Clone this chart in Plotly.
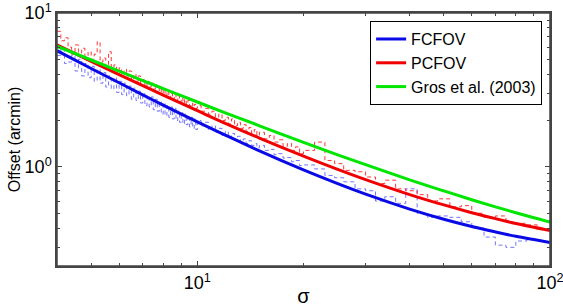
import plotly.graph_objects as go

# ---- data ----
sigma_fit = [4, 5, 6, 7, 8, 10, 12, 15, 20, 25, 30, 40, 50, 60, 70, 80, 90, 100]
fcfov_fit = [5.69, 4.36, 3.52, 2.94, 2.52, 1.96, 1.61, 1.27, 0.955, 0.778, 0.665,
             0.532, 0.457, 0.410, 0.378, 0.354, 0.337, 0.323]
pcfov_fit = [6.20, 4.85, 3.98, 3.37, 2.93, 2.32, 1.92, 1.54, 1.176, 0.964, 0.827,
             0.661, 0.566, 0.504, 0.461, 0.429, 0.405, 0.386]
gros_fit = [6.08, 4.95, 4.19, 3.64, 3.23, 2.64, 2.245, 1.85, 1.445, 1.198, 1.034,
            0.824, 0.698, 0.612, 0.550, 0.504, 0.467, 0.438]

sigma_data = [4.0, 4.1, 4.2, 4.3, 4.4, 4.5, 4.6, 4.7, 4.8, 4.9,
              5.0, 5.1, 5.2, 5.3, 5.4, 5.5, 5.6, 5.7, 5.8, 5.9,
              6.0, 6.1, 6.2, 6.3, 6.4, 6.5, 6.6, 6.7, 6.8, 6.9,
              7.0, 7.1, 7.2, 7.3, 7.4, 7.5, 7.6, 7.7, 7.8, 7.9,
              8.0, 8.1, 8.2, 8.3, 8.4, 8.5, 8.6, 8.7, 8.8, 8.9,
              9.0, 9.1, 9.2, 9.3, 9.4, 9.5, 9.6, 9.7, 9.8, 9.9,
              10.0, 10.25, 10.5, 10.75, 11.0, 11.25, 11.5, 11.75,
              12.0, 12.25, 12.5, 12.75, 13.0, 13.25, 13.5, 13.75,
              14.0, 14.25, 14.5, 14.75, 15.0, 15.5, 16.0, 16.5,
              17.0, 17.5, 18.0, 18.5, 19.0, 19.5, 20.0,
              21.5, 23.0, 24.5, 26.0, 28.0, 30.0, 32.0, 34.0, 36.5,
              39.0, 42.0, 45.0, 48.0, 52.0, 56.0, 60.0, 65.0, 70.0, 75.0, 80.0,
              86.0, 92.0]
pcfov_data = [7.6, 6.6, 6.9, 6.0, 5.4, 6.2, 5.5, 5.9, 5.2, 5.6,
              5.0, 5.4, 6.5, 4.8, 5.1, 4.5, 5.6, 4.4, 4.6, 4.2,
              4.4, 4.0, 4.3, 3.9, 4.2, 3.7, 4.0, 3.6, 3.9, 3.5,
              3.7, 3.3, 3.6, 3.3, 3.5, 3.2, 3.4, 3.0, 3.3, 3.0,
              3.2, 2.9, 3.1, 2.8, 3.0, 2.75, 2.95, 2.7, 2.9, 2.65,
              2.8, 2.6, 2.75, 2.55, 2.7, 2.5, 2.6, 2.45, 2.55, 2.4,
              2.5, 2.3, 2.4, 2.2, 2.3, 2.1, 2.2, 2.0,
              2.1, 1.9, 2.05, 1.85, 1.95, 1.78, 1.88, 1.7,
              1.8, 1.65, 1.75, 1.6, 1.68, 1.52, 1.6, 1.45,
              1.5, 1.36, 1.42, 1.28, 1.35, 1.22, 1.28,
              1.45, 1.1, 1.05, 0.95, 0.93, 0.86, 0.78, 0.82, 0.72,
              0.70, 0.66, 0.60, 0.62, 0.55, 0.56, 0.50, 0.47, 0.48, 0.44, 0.43,
              0.42, 0.39]
fcfov_data = [5.3, 5.9, 4.7, 4.8, 5.3, 4.2, 5.0, 3.9, 4.7, 3.8,
              4.5, 3.6, 4.3, 3.5, 4.1, 3.3, 3.9, 3.2, 3.8, 3.05,
              3.6, 2.95, 3.5, 2.9, 3.35, 2.75, 3.25, 2.7, 3.1, 2.6,
              3.0, 2.5, 2.9, 2.45, 2.85, 2.35, 2.75, 2.3, 2.65, 2.2,
              2.6, 2.15, 2.5, 2.1, 2.45, 2.05, 2.4, 2.0, 2.3, 1.95,
              2.25, 1.9, 2.2, 1.88, 2.15, 1.82, 2.1, 1.78, 2.05, 1.75,
              2.0, 1.85, 1.95, 1.75, 1.85, 1.68, 1.78, 1.6,
              1.7, 1.55, 1.65, 1.5, 1.58, 1.45, 1.52, 1.42,
              1.48, 1.38, 1.42, 1.33, 1.38, 1.28, 1.3, 1.2,
              1.22, 1.14, 1.15, 1.08, 1.1, 1.02, 1.03,
              0.97, 0.88, 0.85, 0.80, 0.72, 0.70, 0.60, 0.64, 0.58,
              0.72, 0.50, 0.47, 0.48, 0.47, 0.44, 0.40, 0.35, 0.31, 0.30, 0.33,
              0.34]

x_major = [10, 100]
x_major_text = ["10<sup>1</sup>", "10<sup>2</sup>"]
x_minor = [4, 5, 6, 7, 8, 9, 20, 30, 40, 50, 60, 70, 80, 90]
y_major = [1, 10]
y_major_text = ["10<sup>0</sup>", "10<sup>1</sup>"]
y_minor = [0.3, 0.4, 0.5, 0.6, 0.7, 0.8, 0.9, 2, 3, 4, 5, 6, 7, 8, 9]

BLUE = "rgb(10,10,230)"
RED = "rgb(240,0,0)"
GREEN = "rgb(0,230,0)"
FONT = "Liberation Sans, Arial"
AXIS = "#444"

fig = go.Figure()
fig.add_trace(go.Scatter(x=sigma_data[:len(fcfov_data)], y=fcfov_data, mode="lines",
                         line=dict(color="rgba(60,60,255,0.7)", width=1, dash="4px,3px", shape="hv"),
                         showlegend=False, hoverinfo="skip"))
fig.add_trace(go.Scatter(x=sigma_data, y=pcfov_data, mode="lines",
                         line=dict(color="rgba(255,20,20,0.85)", width=1, dash="4px,3px", shape="hv"),
                         showlegend=False, hoverinfo="skip"))
fig.add_trace(go.Scatter(x=sigma_fit, y=fcfov_fit, mode="lines", name="FCFOV",
                         line=dict(color=BLUE, width=3, shape="spline")))
fig.add_trace(go.Scatter(x=sigma_fit, y=pcfov_fit, mode="lines", name="PCFOV",
                         line=dict(color=RED, width=3, shape="spline")))
fig.add_trace(go.Scatter(x=sigma_fit, y=gros_fit, mode="lines", name="Gros et al. (2003)",
                         line=dict(color=GREEN, width=3, shape="spline")))

axis_common = dict(type="log", showgrid=False, zeroline=False, showline=True,
                   linecolor=AXIS, linewidth=1.5, mirror="ticks", ticks="inside",
                   ticklen=5, tickcolor=AXIS, automargin=False, ticklabeloverflow="allow",
                   tickfont=dict(family=FONT, size=18, color="black"))

fig.update_xaxes(range=[0.60206, 2], tickvals=x_major, ticktext=x_major_text,
                 minor=dict(tickvals=x_minor, ticks="inside", ticklen=3, tickcolor=AXIS),
                 title=dict(text="σ", font=dict(family=FONT, size=20, color="black"),
                            standoff=2),
                 **axis_common)
fig.update_yaxes(range=[-0.644, 1], tickvals=y_major, ticktext=y_major_text,
                 minor=dict(tickvals=y_minor, ticks="inside", ticklen=3, tickcolor=AXIS),
                 title=dict(text="Offset (arcmin)", font=dict(family=FONT, size=16, color="black"),
                            standoff=0),
                 **axis_common)

fig.add_shape(type="rect", xref="paper", yref="paper", x0=0, x1=1, y0=0, y1=1,
              line=dict(color=AXIS, width=1.5), fillcolor="rgba(0,0,0,0)", layer="above")

fig.update_layout(
    width=563, height=307,
    margin=dict(l=57, r=13, t=13, b=41),
    paper_bgcolor="white", plot_bgcolor="white",
    legend=dict(x=0.984, y=0.968, xanchor="right", yanchor="top",
                bgcolor="white", bordercolor="black", borderwidth=1,
                font=dict(family=FONT, size=16, color="black"),
                itemwidth=30, tracegroupgap=0),
)

fig.write_html("out.html", config={"displayModeBar": False},
               post_script="document.body.style.margin='0px';document.body.style.overflow='hidden';")
